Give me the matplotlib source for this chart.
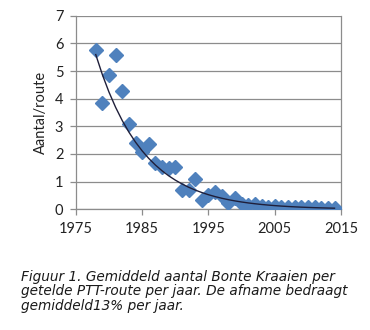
import numpy as np
import matplotlib
matplotlib.use("Agg")
import matplotlib.pyplot as plt

years = list(range(1978, 2015))
aantal = [5.76, 3.85, 4.85, 5.58, 4.29, 3.07, 2.38, 2.07, 2.35, 1.66,
          1.54, 1.48, 1.54, 0.68, 0.70, 1.08, 0.35, 0.50, 0.63, 0.48,
          0.22, 0.40, 0.20, 0.15, 0.20, 0.10, 0.09, 0.10, 0.08, 0.08,
          0.08, 0.08, 0.07, 0.07, 0.06, 0.06, 0.05]
afname = 0.13  # mean yearly decline

x_ticks = [1975, 1985, 1995, 2005, 2015]
y_ticks = [0, 1, 2, 3, 4, 5, 6, 7]
y_label = "Aantal/route"
caption = ("Figuur 1. Gemiddeld aantal Bonte Kraaien per\n"
           "getelde PTT-route per jaar. De afname bedraagt\n"
           "gemiddeld13% per jaar.")

# exponential trendline with the stated decline; level fitted on log scale
yr = np.array(years, dtype=float) - years[0]
val = np.array(aantal)
basis = (1.0 - afname) ** yr
amp = np.exp(np.mean(np.log(val) - np.log(basis)))
trend = amp * basis

fig = plt.figure(figsize=(3.7, 3.3), dpi=100)
ax = fig.add_axes([0.205, 0.366, 0.717, 0.586])

ax.plot(years, aantal, linestyle="none", marker="D", markersize=7.5,
        color="#4f81bd", zorder=3)
ax.plot(years, trend, color="#1f1f3a", linewidth=1.0, zorder=4)

ax.set_xlim(1975, 2015)
ax.set_ylim(0, 7)
ax.set_xticks(x_ticks)
ax.set_yticks(y_ticks)
ax.yaxis.grid(True, color="#8c8c8c", linewidth=0.9)
ax.set_axisbelow(True)

for s in ["left", "bottom", "right"]:
    ax.spines[s].set_color("#8c8c8c")
    ax.spines[s].set_linewidth(0.9)
ax.spines["top"].set_visible(False)

ax.tick_params(axis="both", direction="out", length=4, width=0.9,
               color="#8c8c8c", labelsize=10.5, pad=5, labelcolor="#222222")
for lbl in ax.get_xticklabels() + ax.get_yticklabels():
    lbl.set_family(["Lato", "DejaVu Sans"])
ax.set_ylabel(y_label, fontsize=10.5, family=["Lato", "DejaVu Sans"],
              color="#222222", labelpad=5)

fig.text(0.058, 0.118, caption, fontsize=9.8, style="italic",
         family=["DejaVu Sans"], color="#1a1a1a", va="center",
         ha="left", linespacing=1.05)

fig.savefig("out.png", dpi=100, facecolor="white")
